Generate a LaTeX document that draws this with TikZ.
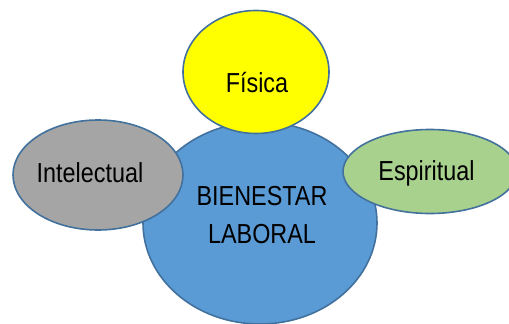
\documentclass[tikz,border=0pt]{standalone}
\usepackage{fontspec}
\setmainfont{Liberation Sans}[FakeStretch=0.85]
\usetikzlibrary{shapes.geometric}
\definecolor{blueFill}{HTML}{5B9BD5}
\definecolor{edgeBlue}{HTML}{41719C}
\definecolor{yelFill}{HTML}{FFFF00}
\definecolor{grayFill}{HTML}{A5A5A5}
\definecolor{greenFill}{HTML}{A9D18E}
\tikzset{
  bubble/.style={ellipse, draw=edgeBlue, line width=1.6pt, inner sep=0pt},
  lbl/.style={anchor=base, inner sep=0pt, font=\fontsize{27.5}{33}\selectfont, text=black}
}
\begin{document}
\begin{tikzpicture}[x=1pt,y=-1pt]
\useasboundingbox (0,0) rectangle (509,324);
\node[bubble, fill=blueFill, minimum width=234pt, minimum height=202pt] (core) at (260,223) {};
\node[bubble, fill=yelFill, minimum width=146pt, minimum height=123pt] (fis) at (256,72) {};
\node[bubble, fill=grayFill, minimum width=170pt, minimum height=110pt] (int) at (98,175) {};
\node[bubble, fill=greenFill, minimum width=174pt, minimum height=84pt] (esp) at (430,171.5) {};
\node[lbl] (t1) at (262,205) {BIENESTAR};
\node[lbl] (t2) at (262,243) {LABORAL};
\node[lbl] (t3) at (257,92) {Física};
\node[lbl] (t4) at (90,182) {Intelectual};
\node[lbl] (t5) at (426.5,180) {Espiritual};
\end{tikzpicture}
\end{document}
